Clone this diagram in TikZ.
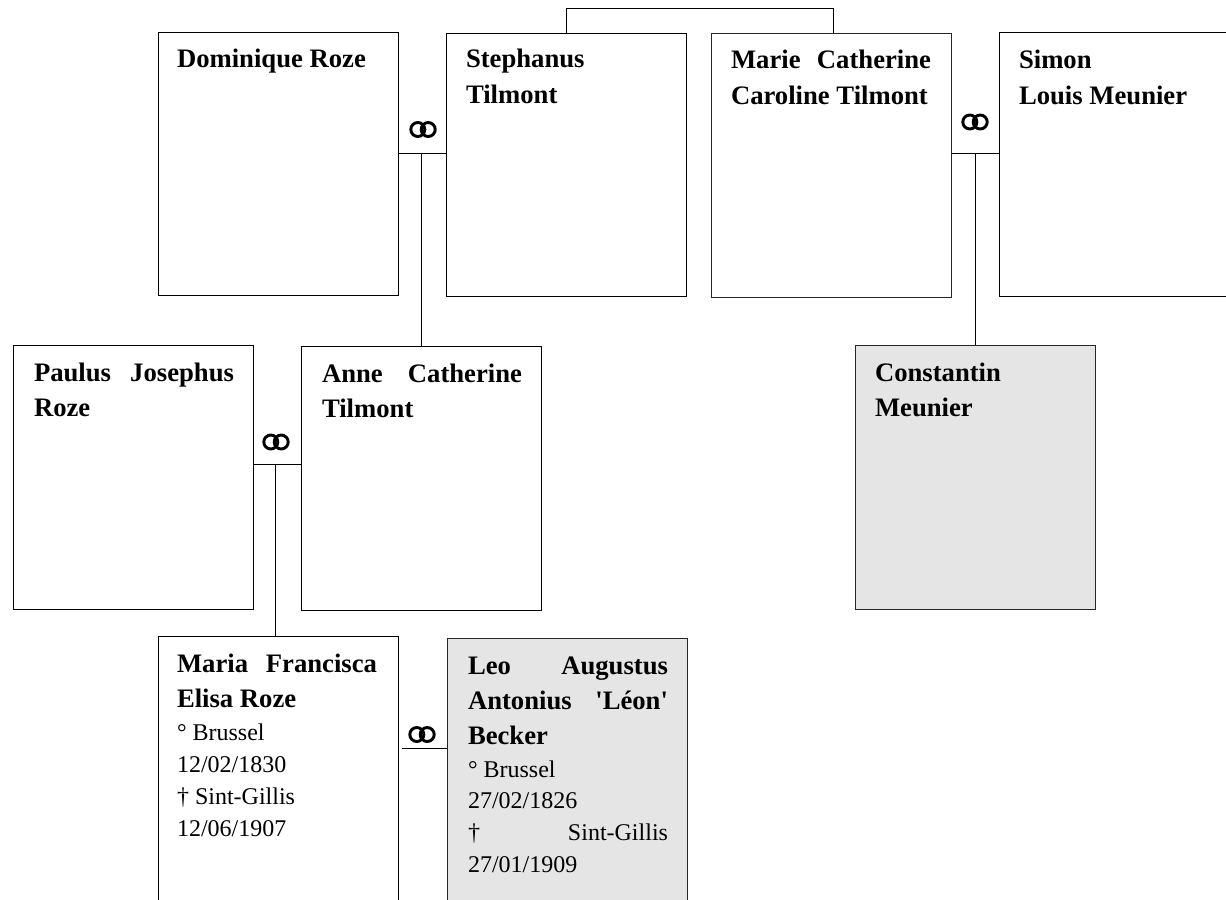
\documentclass[tikz,border=0pt]{standalone}
\usepackage{fontspec}
\newfontfamily\tms{Liberation Serif}
\newdimen\px \px=0.75pt
\newcommand\LF[1]{\setbox0=\hbox to 200\px{#1}\ht0=0pt \dp0=0pt \box0 }
\newcommand\GP[1]{\kern#1\px}
\newcommand\BF{\tms\bfseries\fontsize{20}{24}\selectfont}
\newcommand\RG{\tms\mdseries\fontsize{18}{24}\selectfont}
\tikzset{
  x=0.75pt,y=-0.75pt,
  person/.style={draw=black,line width=0.75pt,fill=white,rectangle,inner sep=0pt,anchor=north west,minimum width=180pt},
  shaded/.style={person,draw=black!85,fill=black!10},
  label text/.style={anchor=base west,inner sep=0pt,outer sep=0pt},
  link/.style={draw=black,line width=0.75pt},
  rings/.pic={\draw[line width=2.2pt,black] (-5.2,0) circle[radius=7] (5.2,0) circle[radius=7];}
}
\begin{document}
\begin{tikzpicture}
\useasboundingbox (0,0) rectangle (1226,899);
\clip (0,0) rectangle (1226,899);
% boxes
\node[person,minimum height=197.25pt] (dom) at (157.5,32) {};
\node[person,minimum height=197.25pt] (ste) at (445.5,33) {};
\node[person,draw=black!85,minimum height=197.5pt] (mar) at (710.5,33.5) {};
\node[person,minimum height=197.5pt] (sim) at (998.5,32.5) {};
\node[person,minimum height=198pt] (pau) at (12.5,345) {};
\node[person,minimum height=198pt] (ann) at (300.5,346) {};
\node[shaded,minimum height=198pt] (con) at (854.5,345) {};
\node[person,minimum height=210pt] (mfe) at (157.5,636) {};
\node[shaded,minimum height=210pt] (leo) at (446.5,638) {};
% connectors
\coordinate (c1) at (421.5,153);
\coordinate (c2) at (975,153);
\coordinate (c3) at (275,464.5);
\coordinate (c4) at (423,748);
\coordinate (t1) at (566,8.5);
\coordinate (t2) at (833,8.5);
\draw[link] (dom.east |- c1) -- (ste.west |- c1);
\draw[link] (c1) -- (c1 |- ann.north);
\draw[link] (mar.east |- c2) -- (sim.west |- c2);
\draw[link] (c2) -- (c2 |- con.north);
\draw[link] (pau.east |- c3) -- (ann.west |- c3);
\draw[link] (c3) -- (c3 |- mfe.north);
\draw[link] ([xshift=2.5]mfe.east |- c4) -- (leo.west |- c4);
\draw[link] (t1 |- ste.north) -- (t1) -- (t2) -- (t2 |- mar.north);
% rings
\pic at (423,129.5) {rings};
\pic at (975,122) {rings};
\pic at (276,442) {rings};
\pic at (422,734.5) {rings};
% texts
\node[label text] (tdom) at (177,68) {\vtop{\BF\offinterlineskip\LF{Dominique Roze\hfil}}};
\node[label text] (tste) at (466,68) {\vtop{\BF\offinterlineskip\LF{Stephanus\hfil}\GP{35}\LF{Tilmont\hfil}}};
\node[label text] (tmar) at (731,69) {\vtop{\BF\offinterlineskip\LF{Marie\hfil Catherine}\GP{36}\LF{Caroline Tilmont\hfil}}};
\node[label text] (tsim) at (1019,68.5) {\vtop{\BF\offinterlineskip\LF{Simon\hfil}\GP{36}\LF{Louis Meunier\hfil}}};
\node[label text] (tpau) at (34,381) {\vtop{\BF\offinterlineskip\LF{Paulus\hfil Josephus}\GP{35}\LF{Roze\hfil}}};
\node[label text] (tann) at (322,382) {\vtop{\BF\offinterlineskip\LF{Anne\hfil Catherine}\GP{35}\LF{Tilmont\hfil}}};
\node[label text] (tcon) at (875,381) {\vtop{\BF\offinterlineskip\LF{Constantin\hfil}\GP{35}\LF{Meunier\hfil}}};
\node[label text] (tmfe) at (177,672) {\vtop{\offinterlineskip\BF\LF{Maria\hfil Francisca}\GP{35}\LF{Elisa Roze\hfil}\RG\GP{33}\LF{° Brussel\hfil}\GP{32}\LF{12/02/1830\hfil}\GP{32}\LF{† Sint-Gillis\hfil}\GP{32}\LF{12/06/1907\hfil}}};
\node[label text] (tleo) at (468,674) {\vtop{\offinterlineskip\BF\LF{Leo\hfil Augustus}\GP{35}\LF{Antonius\hfil 'Léon'}\GP{35}\LF{Becker\hfil}\RG\GP{33}\LF{° Brussel\hfil}\GP{31}\LF{27/02/1826\hfil}\GP{32}\LF{†\hfil Sint-Gillis}\GP{32}\LF{27/01/1909\hfil}}};
\end{tikzpicture}
\end{document}
